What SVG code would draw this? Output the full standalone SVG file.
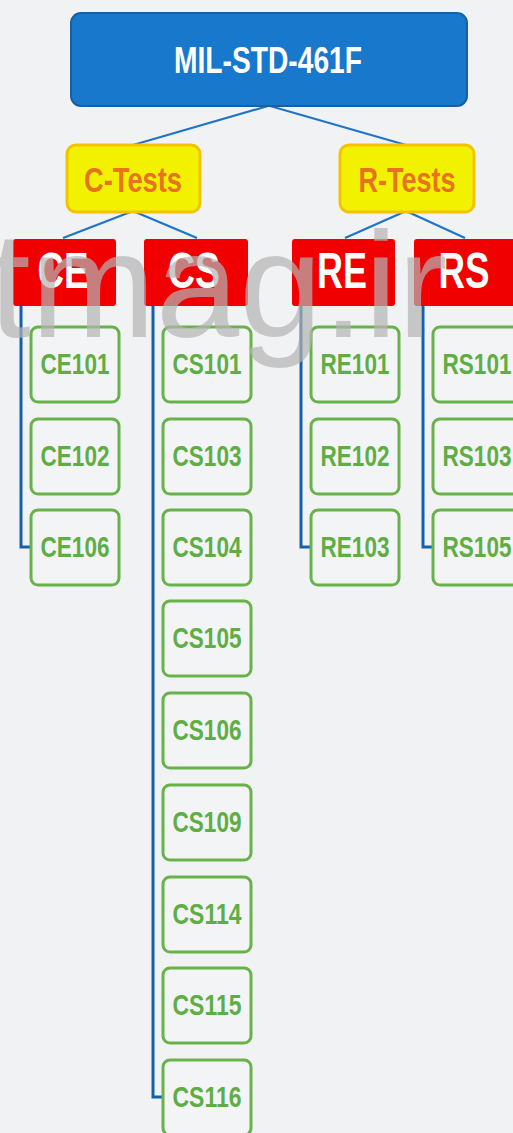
<svg xmlns="http://www.w3.org/2000/svg" width="513" height="1133" viewBox="0 0 513 1133">
<style>
text{font-family:"Liberation Sans",Arial,sans-serif;font-weight:bold;text-anchor:middle}
.top{fill:#1878cc;stroke:#1a5fa0;stroke-width:2}
.topt{fill:#ffffff;font-size:37px}
.cat{fill:#f2f200;stroke:#f4c300;stroke-width:3}
.catt{fill:#e8731e;font-size:35px}
.grp{fill:#f00000}
.grpt{fill:#ffffff;font-size:50px}
.leaf{fill:#f3f4f6;stroke:#68b24a;stroke-width:3}
.leaft{fill:#5fae45;font-size:30px}
.diag{stroke:#1f74c8;stroke-width:2.2;fill:none}
.vert{stroke:#1560a8;stroke-width:3;fill:none}
.wm{font-family:"Liberation Sans",Arial,sans-serif;font-weight:normal;text-anchor:start;font-size:150px;fill:#b4b4b4;fill-opacity:0.7}
</style>
<rect width="513" height="1133" fill="#f1f2f4"/>
<g id="connectors">
<path class="diag" d="M268 106 L133 145 M270 106 L406 145 M133 211 L63 238 M133 211 L197 238 M406 211 L345 238 M406 211 L465 238"/>
<path class="vert" d="M21 306 V547 H31 M153 306 V1097 H163 M301 306 V547 H311 M423 306 V547 H433"/>
</g>
<g id="mil"><rect class="top" x="71" y="13" width="396" height="93" rx="10"/><text class="topt" x="268" y="73" textLength="188" lengthAdjust="spacingAndGlyphs">MIL-STD-461F</text></g>
<g id="ctests"><rect class="cat" x="67" y="145" width="133" height="67" rx="9"/><text class="catt" x="133" y="192" textLength="98" lengthAdjust="spacingAndGlyphs">C-Tests</text></g>
<g id="rtests"><rect class="cat" x="340" y="145" width="134" height="67" rx="9"/><text class="catt" x="407" y="192" textLength="97" lengthAdjust="spacingAndGlyphs">R-Tests</text></g>
<g id="ce"><rect class="grp" x="13" y="239" width="103" height="67" rx="3"/><text class="grpt" x="63" y="288" textLength="51" lengthAdjust="spacingAndGlyphs">CE</text></g>
<g id="cs"><rect class="grp" x="144" y="239" width="104" height="67" rx="3"/><text class="grpt" x="194" y="288" textLength="52" lengthAdjust="spacingAndGlyphs">CS</text></g>
<g id="re"><rect class="grp" x="292" y="239" width="103" height="67" rx="3"/><text class="grpt" x="342" y="288" textLength="50" lengthAdjust="spacingAndGlyphs">RE</text></g>
<g id="rs"><rect class="grp" x="414" y="239" width="103" height="67" rx="3"/><text class="grpt" x="464" y="288" textLength="51" lengthAdjust="spacingAndGlyphs">RS</text></g>
<g id="ce101"><rect class="leaf" x="31" y="327" width="88" height="75" rx="7"/><text class="leaft" x="75" y="374" textLength="69" lengthAdjust="spacingAndGlyphs">CE101</text></g>
<g id="ce102"><rect class="leaf" x="31" y="419" width="88" height="75" rx="7"/><text class="leaft" x="75" y="466" textLength="69" lengthAdjust="spacingAndGlyphs">CE102</text></g>
<g id="ce106"><rect class="leaf" x="31" y="510" width="88" height="75" rx="7"/><text class="leaft" x="75" y="557" textLength="69" lengthAdjust="spacingAndGlyphs">CE106</text></g>
<g id="cs101"><rect class="leaf" x="163" y="327" width="88" height="75" rx="7"/><text class="leaft" x="207" y="374" textLength="69" lengthAdjust="spacingAndGlyphs">CS101</text></g>
<g id="cs103"><rect class="leaf" x="163" y="419" width="88" height="75" rx="7"/><text class="leaft" x="207" y="466" textLength="69" lengthAdjust="spacingAndGlyphs">CS103</text></g>
<g id="cs104"><rect class="leaf" x="163" y="510" width="88" height="75" rx="7"/><text class="leaft" x="207" y="557" textLength="69" lengthAdjust="spacingAndGlyphs">CS104</text></g>
<g id="cs105"><rect class="leaf" x="163" y="601" width="88" height="75" rx="7"/><text class="leaft" x="207" y="648" textLength="69" lengthAdjust="spacingAndGlyphs">CS105</text></g>
<g id="cs106"><rect class="leaf" x="163" y="693" width="88" height="75" rx="7"/><text class="leaft" x="207" y="740" textLength="69" lengthAdjust="spacingAndGlyphs">CS106</text></g>
<g id="cs109"><rect class="leaf" x="163" y="785" width="88" height="75" rx="7"/><text class="leaft" x="207" y="832" textLength="69" lengthAdjust="spacingAndGlyphs">CS109</text></g>
<g id="cs114"><rect class="leaf" x="163" y="877" width="88" height="75" rx="7"/><text class="leaft" x="207" y="924" textLength="69" lengthAdjust="spacingAndGlyphs">CS114</text></g>
<g id="cs115"><rect class="leaf" x="163" y="968" width="88" height="75" rx="7"/><text class="leaft" x="207" y="1015" textLength="69" lengthAdjust="spacingAndGlyphs">CS115</text></g>
<g id="cs116"><rect class="leaf" x="163" y="1060" width="88" height="75" rx="7"/><text class="leaft" x="207" y="1107" textLength="69" lengthAdjust="spacingAndGlyphs">CS116</text></g>
<g id="re101"><rect class="leaf" x="311" y="327" width="88" height="75" rx="7"/><text class="leaft" x="355" y="374" textLength="69" lengthAdjust="spacingAndGlyphs">RE101</text></g>
<g id="re102"><rect class="leaf" x="311" y="419" width="88" height="75" rx="7"/><text class="leaft" x="355" y="466" textLength="69" lengthAdjust="spacingAndGlyphs">RE102</text></g>
<g id="re103"><rect class="leaf" x="311" y="510" width="88" height="75" rx="7"/><text class="leaft" x="355" y="557" textLength="69" lengthAdjust="spacingAndGlyphs">RE103</text></g>
<g id="rs101"><rect class="leaf" x="433" y="327" width="88" height="75" rx="7"/><text class="leaft" x="477" y="374" textLength="69" lengthAdjust="spacingAndGlyphs">RS101</text></g>
<g id="rs103"><rect class="leaf" x="433" y="419" width="88" height="75" rx="7"/><text class="leaft" x="477" y="466" textLength="69" lengthAdjust="spacingAndGlyphs">RS103</text></g>
<g id="rs105"><rect class="leaf" x="433" y="510" width="88" height="75" rx="7"/><text class="leaft" x="477" y="557" textLength="69" lengthAdjust="spacingAndGlyphs">RS105</text></g>
<g id="watermark"><text class="wm" x="-11" y="337">tmag.ir</text></g>
</svg>
